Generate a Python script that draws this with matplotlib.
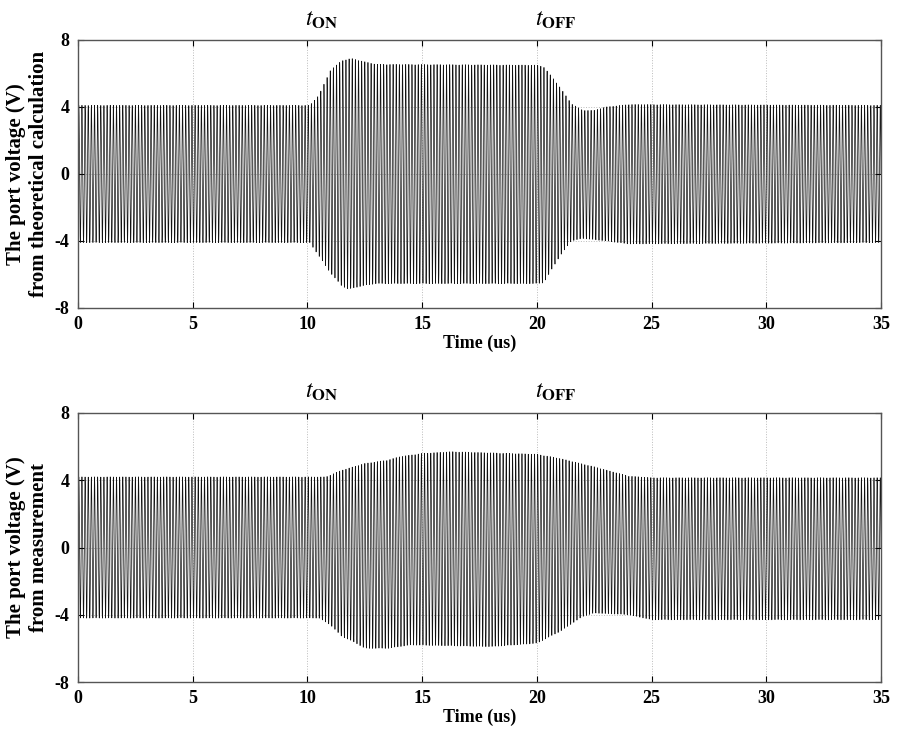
import numpy as np
import matplotlib
matplotlib.use("Agg")
import matplotlib.pyplot as plt

plt.rcParams['font.family'] = ['Liberation Serif', 'DejaVu Serif']
plt.rcParams['mathtext.fontset'] = 'stix'
plt.rcParams['axes.unicode_minus'] = False

# carrier frequency (MHz)
carrier_mhz = 7.3

# theoretical calculation: upper / lower envelope knots (us, V)
calc_t_up = [0, 10.1, 10.5, 11.0, 11.5, 11.9, 12.5, 13.0, 20.0, 20.3, 21.0, 21.5, 22.0, 22.5, 23.0, 24.0, 35]
calc_up = [4.1, 4.1, 4.7, 6.2, 6.77, 6.9, 6.7, 6.55, 6.5, 6.4, 5.2, 4.2, 3.8, 3.8, 4.0, 4.15, 4.1]
calc_t_lo = [0, 10.1, 10.5, 11.0, 11.5, 11.8, 12.5, 13.0, 20.0, 20.3, 21.0, 21.5, 22.0, 23.0, 24.0, 35]
calc_lo = [-4.1, -4.1, -4.9, -5.9, -6.7, -6.88, -6.65, -6.55, -6.55, -6.5, -4.9, -4.0, -3.85, -4.0, -4.18, -4.1]

# measurement: upper / lower envelope knots (us, V)
meas_t_up = [0, 10.8, 11.5, 12.5, 13.5, 14.0, 15.0, 16.3, 20.0, 21.0, 22.5, 24.0, 25.0, 35]
meas_up = [4.2, 4.2, 4.6, 5.0, 5.2, 5.4, 5.6, 5.7, 5.55, 5.3, 4.8, 4.25, 4.15, 4.15]
meas_t_lo = [0, 10.5, 11.0, 11.5, 12.0, 12.5, 13.5, 14.5, 18.0, 20.0, 21.0, 22.0, 22.5, 24.0, 25.0, 35]
meas_lo = [-4.2, -4.2, -4.6, -5.3, -5.6, -6.0, -6.0, -5.8, -5.9, -5.7, -5.0, -4.1, -3.9, -4.0, -4.3, -4.3]

ylabels = ['The port voltage (V)\nfrom theoretical calculation',
           'The port voltage (V)\nfrom measurement']
t_on, t_off = 10.6, 20.8

t = np.linspace(0, 35, 9000)
carrier = np.sin(2 * np.pi * carrier_mhz * t)

fig = plt.figure(figsize=(9.03, 7.35), dpi=100)
axes = [fig.add_axes([0.0864, 0.581, 0.8893, 0.3646]),
        fig.add_axes([0.0864, 0.0721, 0.8893, 0.366])]

sets = [(calc_t_up, calc_up, calc_t_lo, calc_lo),
        (meas_t_up, meas_up, meas_t_lo, meas_lo)]

for ax, (tu, u, tl, l), lab in zip(axes, sets, ylabels):
    up = np.interp(t, tu, u)
    lo = np.interp(t, tl, l)
    v = (up + lo) / 2 + (up - lo) / 2 * carrier
    ax.plot(t, v, color='#111111', lw=0.5)
    ax.set_xlim(0, 35)
    ax.set_ylim(-8, 8)
    ax.set_xticks([0, 5, 10, 15, 20, 25, 30, 35])
    ax.set_yticks([-8, -4, 0, 4, 8])
    ax.grid(True, color='#bbbbbb', ls=':', lw=0.7)
    ax.tick_params(direction='in', top=True, right=True, length=4, width=0.8,
                   labelsize=13, pad=6)
    for lb in ax.get_xticklabels() + ax.get_yticklabels():
        lb.set_fontweight('bold')
    for s in ax.spines.values():
        s.set_color('#555555')
        s.set_linewidth(1.0)
    ax.set_xlabel('Time (us)', fontsize=13, fontweight='bold', labelpad=1)
    ax.set_ylabel(lab, fontsize=15, fontweight='bold', labelpad=4)
    ax.text(t_on, 1.075, r'$t_{\mathbf{ON}}$', transform=ax.get_xaxis_transform(),
            ha='center', va='center', fontsize=17)
    ax.text(t_off, 1.075, r'$t_{\mathbf{OFF}}$', transform=ax.get_xaxis_transform(),
            ha='center', va='center', fontsize=17)

fig.savefig('out.png', dpi=100)
